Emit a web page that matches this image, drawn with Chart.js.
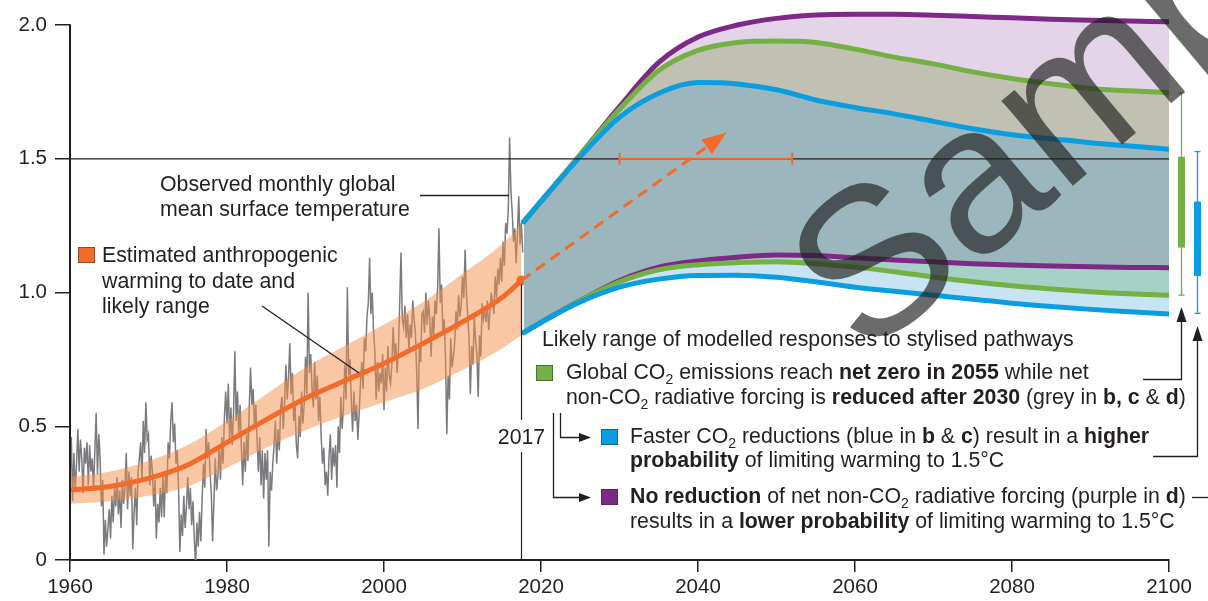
<!DOCTYPE html>
<html>
<head>
<meta charset="utf-8">
<title>Global warming relative to 1850–1900 (°C)</title>
<script src="https://cdn.jsdelivr.net/npm/chart.js@4.4.1/dist/chart.umd.min.js"></script>
<style>
  html, body { margin: 0; padding: 0; background: #ffffff; }
  #wrap { width: 1208px; height: 601px; position: relative; }
</style>
</head>
<body>
<div id="wrap"><canvas id="c" width="1208" height="601"></canvas></div>
<script>
// ---------------------------------------------------------------
// Data
// ---------------------------------------------------------------
const xTicks = [1960, 1980, 2000, 2020, 2040, 2060, 2080, 2100];
const yTicks = [0, 0.5, 1.0, 1.5, 2.0];

// Observed global mean surface temperature, six readings per year from 1960
const observedStart = 1960;
const observedPerYear = 6;
const observed = [
  0.30, 0.46, 0.22, 0.40, 0.26, 0.36,   0.49, 0.33, 0.45, 0.38, 0.25, 0.42,
  0.36, 0.44, 0.28, 0.43, 0.33, 0.38,   0.26, 0.41, 0.55, 0.32, 0.47, 0.38,
  0.20, 0.30, 0.02, 0.15, 0.05, 0.12,   0.19, 0.08, 0.24, 0.14, 0.27, 0.20,
  0.31, 0.17, 0.26, 0.12, 0.30, 0.21,   0.27, 0.40, 0.19, 0.33, 0.24, 0.31,
  0.04, 0.18, 0.27, 0.13, 0.33, 0.38,   0.44, 0.30, 0.52, 0.40, 0.59, 0.45,
  0.47, 0.28, 0.39, 0.33, 0.20, 0.30,   0.08, 0.21, 0.14, 0.27, 0.16, 0.32,
  0.16, 0.33, 0.25, 0.44, 0.38, 0.52,   0.59, 0.44, 0.51, 0.36, 0.41, 0.26,
  0.03, 0.17, 0.09, 0.24, 0.12, 0.20,   0.31, 0.19, 0.27, 0.13, 0.22, 0.08,
  -0.02, 0.14, 0.05, 0.18, 0.07, 0.23,  0.36, 0.27, 0.49, 0.38, 0.44, 0.33,
  0.25, 0.07, 0.22, 0.38, 0.26, 0.31,   0.42, 0.30, 0.46, 0.36, 0.53, 0.63,
  0.51, 0.66, 0.45, 0.57, 0.43, 0.55,   0.78, 0.52, 0.63, 0.47, 0.58, 0.42,
  0.28, 0.44, 0.33, 0.47, 0.37, 0.57,   0.72, 0.58, 0.64, 0.49, 0.58, 0.45,
  0.33, 0.46, 0.28, 0.41, 0.23, 0.40,   0.30, 0.41, 0.05, 0.33, 0.26, 0.36,
  0.43, 0.52, 0.36, 0.49, 0.41, 0.57,   0.61, 0.49, 0.59, 0.73, 0.60, 0.68,
  0.81, 0.62, 0.70, 0.52, 0.58, 0.43,   0.38, 0.54, 0.46, 0.63, 0.51, 0.58,
  0.76, 0.62, 1.00, 0.70, 0.77, 0.64,   0.57, 0.74, 0.60, 0.69, 0.52, 0.61,
  0.46, 0.36, 0.42, 0.28, 0.33, 0.24,   0.39, 0.47, 0.30, 0.42, 0.35, 0.43,
  0.27, 0.50, 0.40, 0.61, 0.49, 0.57,   0.73, 0.60, 1.02, 0.69, 0.75, 0.60,
  0.48, 0.63, 0.52, 0.58, 0.45, 0.55,   0.66, 0.74, 0.64, 0.83, 0.78, 0.91,
  0.96, 1.13, 0.92, 1.00, 0.86, 0.78,   0.60, 0.74, 0.63, 0.70, 0.66, 0.77,
  0.56, 0.72, 0.63, 0.80, 0.69, 0.66,   0.73, 0.87, 0.76, 0.81, 0.70, 0.78,
  0.96, 1.15, 0.90, 0.87, 0.95, 0.83,   0.92, 0.79, 0.88, 0.83, 0.97, 0.90,
  0.85, 0.70, 0.49, 0.81, 0.74, 0.92,   0.93, 0.85, 1.00, 0.88, 0.97, 0.90,
  0.76, 0.91, 0.84, 0.97, 0.92, 1.02,   1.24, 0.96, 1.03, 0.85, 0.90, 0.76,
  0.47, 0.69, 0.60, 0.83, 0.72, 0.76,   0.81, 0.93, 0.86, 0.99, 0.91, 0.95,
  1.06, 0.98, 1.16, 1.00, 0.91, 0.83,   0.62, 0.80, 0.73, 0.91, 0.82, 0.77,
  0.61, 0.84, 0.76, 0.96, 0.90, 0.93,   0.89, 0.97, 0.86, 0.93, 1.00, 0.96,
  0.92, 1.06, 0.98, 1.09, 1.03, 1.13,   1.04, 1.19, 1.10, 1.26, 1.22, 1.31,
  1.58, 1.38, 1.30, 1.19, 1.24, 1.11,   1.22, 1.36, 1.18, 1.26, 1.15
];

// Estimated anthropogenic warming and its likely range
const anthroYears   = [1960, 1965, 1970, 1975, 1980, 1985, 1990, 1995, 2000, 2005, 2010, 2015, 2017.5];
const anthroCentral = [0.262, 0.275, 0.305, 0.355, 0.44, 0.525, 0.605, 0.67, 0.735, 0.81, 0.89, 0.98, 1.045];
const anthroLow     = [0.21, 0.22, 0.24, 0.275, 0.345, 0.42, 0.485, 0.54, 0.59, 0.64, 0.71, 0.79, 0.84];
const anthroHigh    = [0.31, 0.33, 0.37, 0.43, 0.52, 0.62, 0.72, 0.80, 0.88, 0.965, 1.07, 1.18, 1.25];

// Likely ranges of modelled responses to the stylised pathways
const pathwayYears = [2017.8, 2021, 2025, 2030, 2035, 2040, 2045, 2050, 2055, 2060, 2065, 2070, 2075, 2080, 2085, 2090, 2095, 2100];
const purpleHigh = [1.265, 1.375, 1.515, 1.695, 1.86, 1.955, 2.0, 2.025, 2.038, 2.04, 2.04, 2.037, 2.032, 2.027, 2.022, 2.018, 2.015, 2.012];
const greenHigh  = [1.265, 1.375, 1.515, 1.685, 1.83, 1.905, 1.935, 1.94, 1.935, 1.91, 1.88, 1.855, 1.825, 1.80, 1.78, 1.763, 1.754, 1.747];
const blueHigh   = [1.265, 1.375, 1.508, 1.655, 1.745, 1.785, 1.78, 1.758, 1.72, 1.692, 1.668, 1.64, 1.612, 1.59, 1.575, 1.56, 1.548, 1.536];
const purpleLow  = [0.85, 0.905, 0.97, 1.045, 1.095, 1.118, 1.132, 1.14, 1.138, 1.13, 1.122, 1.115, 1.108, 1.103, 1.099, 1.096, 1.094, 1.093];
const greenLow   = [0.85, 0.905, 0.97, 1.04, 1.085, 1.104, 1.112, 1.115, 1.108, 1.095, 1.078, 1.058, 1.04, 1.025, 1.013, 1.003, 0.995, 0.99];
const blueLow    = [0.85, 0.905, 0.965, 1.02, 1.05, 1.064, 1.065, 1.057, 1.04, 1.02, 1.005, 0.99, 0.975, 0.96, 0.948, 0.937, 0.928, 0.92];

// Ranges at 2100: [min, likely low, likely high, max]
const greenRange2100 = [0.99, 1.168, 1.508, 1.746];
const blueRange2100  = [0.922, 1.062, 1.34, 1.527];

// Current trend extended, and the period in which it crosses 1.5°C
const trendFrom = [2017.5, 1.045];
const trendTo   = [2043.6, 1.597];
const crossing15 = [2030, 2052];
const targetLevel = 1.5;

// ---------------------------------------------------------------
// Styling
// ---------------------------------------------------------------
const FONT = '"Liberation Sans", Arial, Helvetica, sans-serif';
const INK = '#231f20';
const ORANGE = '#f26b2a';
const GREEN = '#74b043';
const BLUE = '#0a9ee0';
const PURPLE = '#7d2a87';
const OBS_GREY = '#7b7b7f';
const BAND_FILLS = ['#e3d5e7', '#c1c1b3', '#9bb6bd', '#a7d0c6', '#c7e3f4'];
const TEXT_SIZE = 21.3;
const TICK_SIZE = 20.5;

const pts = (xs, ys) => xs.map((x, i) => ({ x, y: ys[i] }));

const datasets = [];
const add = d => { datasets.push(Object.assign({ pointRadius: 0, fill: false }, d)); return datasets.length - 1; };

add({
  label: 'Observed',
  data: observed.map((v, i) => ({ x: observedStart + i / observedPerYear, y: v })),
  borderColor: OBS_GREY, borderWidth: 1.5, order: 10
});

const iBandLo = add({
  label: 'Likely range low', data: pts(anthroYears, anthroLow),
  borderColor: 'rgba(0,0,0,0)', borderWidth: 0, cubicInterpolationMode: 'monotone', order: 9
});
add({
  label: 'Likely range high', data: pts(anthroYears, anthroHigh),
  borderColor: 'rgba(0,0,0,0)', borderWidth: 0, cubicInterpolationMode: 'monotone', order: 9,
  fill: { target: iBandLo }, backgroundColor: 'rgba(243,143,73,0.5)'
});

add({
  label: 'Anthropogenic warming', data: pts(anthroYears, anthroCentral),
  borderColor: ORANGE, borderWidth: 5, borderCapStyle: 'round', cubicInterpolationMode: 'monotone', order: 8,
  pointRadius: c => (c.dataIndex === anthroYears.length - 1 ? 5 : 0),
  pointBackgroundColor: ORANGE, pointBorderWidth: 0
});

// Shaded bands between neighbouring pathway bounds (top to bottom)
const bounds = [purpleHigh, greenHigh, blueHigh, purpleLow, greenLow, blueLow];
bounds.forEach((vals, k) => add({
  label: 'band ' + k, data: pts(pathwayYears, vals),
  borderColor: 'rgba(0,0,0,0)', borderWidth: 0, cubicInterpolationMode: 'monotone', order: 7,
  fill: k < bounds.length - 1 ? '+1' : false,
  backgroundColor: BAND_FILLS[k] || 'rgba(0,0,0,0)'
}));

// Pathway bound lines; blue sits on top, then green, then purple
[[purpleHigh, PURPLE, 6.3], [purpleLow, PURPLE, 6.3],
 [greenHigh, GREEN, 6.2], [greenLow, GREEN, 6.2],
 [blueHigh, BLUE, 6.1], [blueLow, BLUE, 6.1]].forEach(([vals, col, ord]) => add({
  data: pts(pathwayYears, vals), borderColor: col, borderWidth: 5,
  borderCapStyle: 'round', cubicInterpolationMode: 'monotone', order: ord
}));

add({
  label: '1.5°C', data: [{ x: 1960, y: targetLevel }, { x: 2100, y: targetLevel }],
  borderColor: INK, borderWidth: 1.3, order: 5
});

add({
  label: 'Crossing period', data: crossing15.map(x => ({ x, y: targetLevel })),
  borderColor: ORANGE, borderWidth: 2, order: 4,
  pointStyle: 'line', pointRotation: 90, pointRadius: 6, pointBorderWidth: 2, pointBorderColor: ORANGE
});

add({
  label: 'Trend', data: [{ x: trendFrom[0], y: trendFrom[1] }, { x: trendTo[0], y: trendTo[1] }],
  borderColor: ORANGE, borderWidth: 3, borderDash: [11, 7], order: 3
});

// ---------------------------------------------------------------
// Drawing helpers
// ---------------------------------------------------------------
function parseRich(s) {
  const parts = [];
  const re = /\*\*(.+?)\*\*|~(.+?)~|([^*~]+)/g;
  let m;
  while ((m = re.exec(s))) {
    if (m[1] !== undefined) parts.push({ t: m[1], bold: true });
    else if (m[2] !== undefined) parts.push({ t: m[2], sub: true });
    else parts.push({ t: m[3] });
  }
  return parts;
}

function drawRich(ctx, s, x, y, size) {
  let cx = x;
  ctx.textBaseline = 'alphabetic';
  ctx.textAlign = 'left';
  for (const p of parseRich(s)) {
    const sz = p.sub ? size * 0.66 : size;
    ctx.font = `${p.bold ? 'bold ' : ''}${sz}px ${FONT}`;
    ctx.fillText(p.t, cx, y + (p.sub ? size * 0.24 : 0));
    cx += ctx.measureText(p.t).width;
  }
}

function polyline(ctx, ptsArr) {
  ctx.beginPath();
  ptsArr.forEach(([x, y], i) => (i ? ctx.lineTo(x, y) : ctx.moveTo(x, y)));
  ctx.stroke();
}

function arrowHead(ctx, tx, ty, dx, dy, len, half) {
  const l = Math.hypot(dx, dy); dx /= l; dy /= l;
  const bx = tx - dx * len, by = ty - dy * len;
  ctx.beginPath();
  ctx.moveTo(tx, ty);
  ctx.lineTo(bx - dy * half, by + dx * half);
  ctx.lineTo(bx + dy * half, by - dx * half);
  ctx.closePath();
  ctx.fill();
}

const textLines = [
  [160, 191, 'Observed monthly global'],
  [160, 216, 'mean surface temperature'],
  [102, 262, 'Estimated anthropogenic'],
  [102, 288, 'warming to date and'],
  [102, 313, 'likely range'],
  [542, 346, 'Likely range of modelled responses to stylised pathways'],
  [566, 379, 'Global CO~2~ emissions reach **net zero in 2055** while net'],
  [566, 404, 'non-CO~2~ radiative forcing is **reduced after 2030** (grey in **b, c** & **d**)'],
  [630, 443, 'Faster CO~2~ reductions (blue in **b** & **c**) result in a **higher**'],
  [630, 467, '**probability** of limiting warming to 1.5°C'],
  [630, 503, '**No reduction** of net non-CO~2~ radiative forcing (purple in **d**)'],
  [630, 528, 'results in a **lower probability** of limiting warming to 1.5°C']
];

const keyBoxes = [
  [78, 247, ORANGE],
  [536, 365, GREEN],
  [601, 429, BLUE],
  [601, 489, PURPLE]
];

const decorations = {
  id: 'decorations',
  afterDatasetsDraw(chart) {
    const ctx = chart.ctx;
    const X = v => chart.scales.x.getPixelForValue(v);
    const Y = v => chart.scales.y.getPixelForValue(v);
    ctx.save();

    // y axis spine from 0 to 2.0
    ctx.strokeStyle = INK; ctx.lineWidth = 2; ctx.lineCap = 'butt';
    polyline(ctx, [[X(1960), Y(0) + 1], [X(1960), Y(2.0) - 0.75]]);

    // arrowhead on the extended trend
    ctx.fillStyle = ORANGE;
    arrowHead(ctx, X(trendTo[0]), Y(trendTo[1]),
      X(trendTo[0]) - X(trendFrom[0]), Y(trendTo[1]) - Y(trendFrom[1]), 24, 9);

    // ranges at 2100
    [[greenRange2100, GREEN, 2101.5], [blueRange2100, BLUE, 2103.55]].forEach(([r, col, xv]) => {
      const x = Math.round(X(xv)) + 0.5;
      ctx.strokeStyle = col; ctx.fillStyle = col; ctx.lineWidth = 1.3;
      polyline(ctx, [[x, Y(r[0])], [x, Y(r[3])]]);
      polyline(ctx, [[x - 3, Y(r[0])], [x + 3, Y(r[0])]]);
      polyline(ctx, [[x - 3, Y(r[3])], [x + 3, Y(r[3])]]);
      ctx.fillRect(x - 3.5, Y(r[2]), 7, Y(r[1]) - Y(r[2]));
    });

    // leader lines and arrows
    ctx.strokeStyle = INK; ctx.fillStyle = INK; ctx.lineWidth = 1.3;
    const gx = Math.round(X(2101.5)) + 0.5, bx = Math.round(X(2103.55)) + 0.5;
    polyline(ctx, [[1143, 379.5], [gx, 379.5], [gx, 320]]);
    arrowHead(ctx, gx, 307, 0, -1, 15, 5);
    polyline(ctx, [[1153, 456.5], [bx, 456.5], [bx, 339]]);
    arrowHead(ctx, bx, 326, 0, -1, 15, 5);
    polyline(ctx, [[1192, 497.5], [1208, 497.5]]);
    polyline(ctx, [[553.5, 413], [553.5, 497.5], [580, 497.5]]);
    arrowHead(ctx, 591, 497.5, 1, 0, 12, 4.5);
    polyline(ctx, [[560.5, 413], [560.5, 437.5], [580, 437.5]]);
    arrowHead(ctx, 591, 437.5, 1, 0, 12, 4.5);
    polyline(ctx, [[420, 195.5], [509, 195.5]]);
    polyline(ctx, [[262, 306], [359, 373]]);

    // 2017 marker
    const x17 = Math.round(X(2017.5)) + 0.5;
    ctx.lineWidth = 1.2;
    polyline(ctx, [[x17, Y(anthroCentral[anthroCentral.length - 1]) + 4], [x17, 420]]);
    polyline(ctx, [[x17, 452], [x17, Y(0)]]);
    ctx.font = `${TEXT_SIZE}px ${FONT}`;
    ctx.textAlign = 'center'; ctx.textBaseline = 'alphabetic';
    ctx.fillText('2017', x17, 444);

    // key boxes
    keyBoxes.forEach(([x, y, col]) => {
      ctx.fillStyle = col; ctx.fillRect(x, y, 17, 16);
      ctx.strokeStyle = 'rgba(40,40,40,0.6)'; ctx.lineWidth = 0.8;
      ctx.strokeRect(x + 0.4, y + 0.4, 16.2, 15.2);
    });

    // annotation text
    ctx.fillStyle = INK;
    textLines.forEach(([x, y, s]) => drawRich(ctx, s, x, y, TEXT_SIZE));

    ctx.restore();
  },
  afterDraw(chart) {
    const ctx = chart.ctx;
    ctx.save();
    ctx.translate(865, 360);
    ctx.rotate(-40 * Math.PI / 180);
    ctx.font = `210px ${FONT}`;
    ctx.fillStyle = 'rgba(30,30,30,0.66)';
    ctx.textBaseline = 'alphabetic';
    ctx.fillText('Sample', 0, 0);
    ctx.restore();
  }
};

// ---------------------------------------------------------------
// Chart
// ---------------------------------------------------------------
new Chart(document.getElementById('c'), {
  type: 'line',
  data: { datasets },
  options: {
    responsive: false,
    animation: false,
    events: [],
    layout: { padding: { top: 9, right: 39, left: 0, bottom: 0 } },
    plugins: { legend: { display: false }, tooltip: { enabled: false } },
    elements: { line: { tension: 0 } },
    scales: {
      x: {
        type: 'linear', min: 1960, max: 2100,
        afterBuildTicks: s => { s.ticks = xTicks.map(value => ({ value })); },
        afterFit: s => { s.height = 41; s.paddingLeft = 0; s.paddingRight = 0; },
        ticks: {
          autoSkip: false, maxRotation: 0, padding: 3, color: INK,
          font: { family: FONT, size: TICK_SIZE },
          callback: v => String(v)
        },
        grid: { drawOnChartArea: false, drawTicks: true, tickLength: 12, color: INK, lineWidth: 1.5 },
        border: { display: true, color: INK, width: 2 }
      },
      y: {
        type: 'linear', min: 0, max: 2.06,
        afterBuildTicks: s => { s.ticks = yTicks.map(value => ({ value })); },
        afterFit: s => { s.width = 70; s.paddingTop = 0; s.paddingBottom = 0; },
        ticks: {
          padding: 8, color: INK,
          font: { family: FONT, size: TICK_SIZE },
          callback: v => (v === 0 ? '0' : v.toFixed(1))
        },
        grid: { drawOnChartArea: false, drawTicks: true, tickLength: 15, color: INK, lineWidth: 1.5 },
        border: { display: false }
      }
    }
  },
  plugins: [decorations]
});
</script>
</body>
</html>
